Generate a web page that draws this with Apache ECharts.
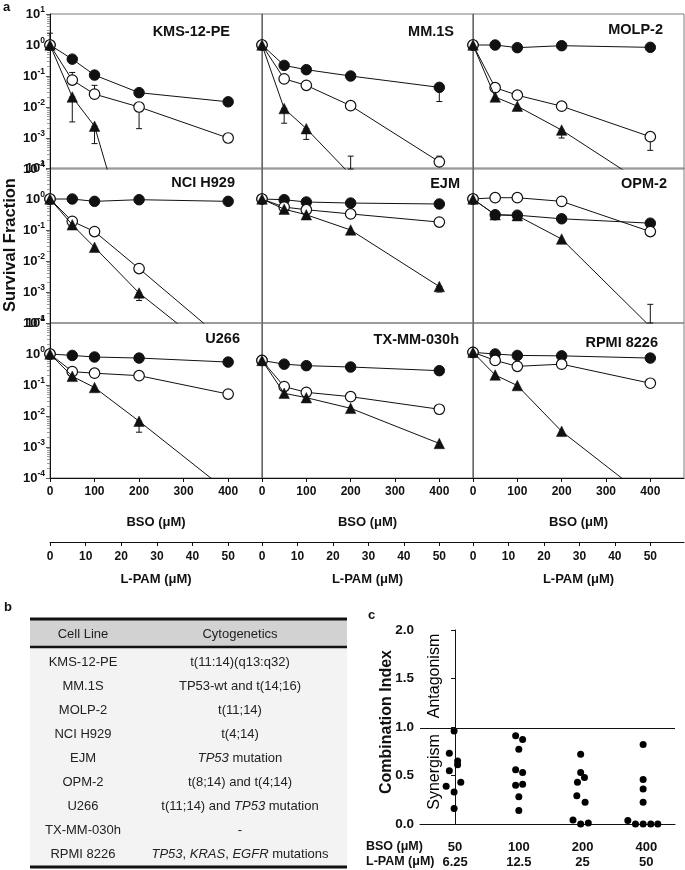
<!DOCTYPE html>
<html><head><meta charset="utf-8">
<script src="https://cdn.jsdelivr.net/npm/echarts@6/dist/echarts.min.js"></script>
<style>html,body{margin:0;padding:0;background:#fff}#c{width:685px;height:870px}</style>
</head><body><div id="c"></div>
<script>
// ---------------- data ----------------
const cellLines = ['KMS-12-PE','MM.1S','MOLP-2','NCI H929','EJM','OPM-2','U266','TX-MM-030h','RPMI 8226'];
const bsoDoses = [0, 50, 100, 200, 400];
const lpamDoses = [0, 6.25, 12.5, 25, 50];
// filled circles
const bsoAlone = [
  [1, 0.35, 0.107, 0.029, 0.0147],
  [1, 0.22, 0.16, 0.10, 0.043],
  [1, 1.0, 0.82, 0.95, 0.84],
  [1, 1.0, 0.84, 0.95, 0.84],
  [1, 0.95, 0.80, 0.74, 0.69],
  [1, 0.31, 0.30, 0.23, 0.166],
  [1, 0.90, 0.80, 0.74, 0.55],
  [0.62, 0.47, 0.42, 0.38, 0.29],
  [1.13, 1.0, 0.90, 0.87, 0.74]
];
// open circles
const lpamAlone = [
  [1, 0.074, 0.026, 0.010, 0.001],
  [1, 0.081, 0.05, 0.011, 0.00017],
  [1, 0.042, 0.024, 0.0106, 0.0011],
  [1, 0.19, 0.089, 0.0057, 0.000021],
  [1, 0.55, 0.45, 0.33, 0.18],
  [1, 1.1, 1.1, 0.84, 0.089],
  [1, 0.27, 0.24, 0.20, 0.051],
  [0.62, 0.089, 0.058, 0.042, 0.0165],
  [1.13, 0.62, 0.40, 0.47, 0.114]
];
// triangles
const combination = [
  [1, 0.021, 0.0024, 3e-8, null],
  [1, 0.0089, 0.002, 0.000065, null],
  [1, 0.021, 0.0106, 0.0018, 0.000025],
  [1, 0.147, 0.0277, 0.00093, 0.0000048],
  [1, 0.47, 0.31, 0.10, 0.0015],
  [1, 0.31, 0.29, 0.051, 0.000076],
  [1, 0.19, 0.083, 0.0068, 0.000036],
  [0.62, 0.054, 0.039, 0.0177, 0.0013],
  [1.13, 0.21, 0.096, 0.0032, 0.000019]
];
// error bars: panel, BSO dose, low, high
const errorBars = [
  [0, 0, 1, 2.4], [0, 50, 0.074, 0.13], [0, 50, 0.0033, 0.021], [0, 100, 0.026, 0.05],
  [0, 100, 0.00066, 0.0024], [0, 200, 0.002, 0.010],
  [1, 400, 0.015, 0.043], [1, 400, 0.00017, 0.00026], [1, 50, 0.003, 0.0089],
  [1, 100, 0.0009, 0.002], [1, 200, 0.0001, 0.00026], [1, 100, 0.16, 0.19],
  [2, 400, 0.0004, 0.0011], [2, 200, 0.001, 0.0018],
  [3, 200, 0.00053, 0.00093],
  [4, 400, 0.001, 0.0015],
  [5, 400, 0.0001, 0.0004], [5, 50, 0.25, 0.31], [5, 100, 0.24, 0.30], [5, 200, 0.18, 0.23],
  [6, 200, 0.003, 0.0068]
];
const bsoTicks = [0, 100, 200, 300, 400];
const lpamTicks = [0, 10, 20, 30, 40, 50];

const ciBso = ['50', '100', '200', '400'];
const ciLpam = ['6.25', '12.5', '25', '50'];
const ciPoints = [
  [-0.015, 0.96], [-0.09, 0.73], [0.04, 0.65], [0.04, 0.61], [-0.09, 0.55], [0.09, 0.43], [-0.14, 0.39], [-0.015, 0.33], [-0.015, 0.16],
  [0.95, 0.91], [1.06, 0.87], [1.0, 0.77], [0.95, 0.56], [1.06, 0.53], [0.95, 0.40], [1.06, 0.41], [1.0, 0.28], [1.0, 0.14],
  [1.97, 0.72], [1.97, 0.53], [2.03, 0.48], [1.92, 0.43], [1.91, 0.29], [2.04, 0.225], [1.85, 0.04], [1.97, 0.0], [2.09, 0.01],
  [2.95, 0.82], [2.95, 0.46], [2.95, 0.36], [2.95, 0.225], [2.71, 0.035], [2.83, 0.0], [2.95, 0.0], [3.07, 0.0], [3.18, 0.0]
];

const tableHeader = ['Cell Line', 'Cytogenetics'];
const cytogenetics = [
  't(11:14)(q13:q32)', 'TP53-wt and t(14;16)', 't(11;14)', 't(4;14)', '{i|TP53} mutation',
  't(8;14) and t(4;14)', 't(11;14) and {i|TP53} mutation', '-', '{i|TP53}, {i|KRAS}, {i|EGFR} mutations'
];

// ---------------- layout ----------------
const FF = 'Liberation Sans, Arial, Helvetica, sans-serif';
const colLeft = [50, 262, 473], colW = [212, 211, 211];
const rowTop = [14, 168, 323], rowH = 155;
const XMAX = 476;
const titlePos = [[230,32],[454,32],[663,30],[235,183],[460,184],[667,184],[240,339],[459,340],[658,343]];

const grids = [], xAxes = [], yAxes = [], series = [], graphics = [];
for (let p = 0; p < 9; p++) {
  const r = Math.floor(p / 3), c = p % 3;
  grids.push({left: colLeft[c], top: rowTop[r], width: colW[c], height: rowH, show: true, borderColor: '#7a7a7a', borderWidth: 1, containLabel: false});
  const bottomRow = r === 2;
  xAxes.push({
    type: 'value', gridIndex: p, min: 0, max: XMAX, show: bottomRow,
    splitLine: {show: false},
    axisLine: {show: true, lineStyle: {color: '#111', width: 1}},
    axisTick: {show: true, customValues: bsoTicks, length: 4, lineStyle: {color: '#111'}},
    axisLabel: {customValues: bsoTicks, fontFamily: FF, fontWeight: 'bold', fontSize: 12, color: '#111', margin: 8},
    name: 'BSO (\u03bcM)', nameLocation: 'middle', nameGap: 38,
    nameTextStyle: {fontFamily: FF, fontWeight: 'bold', fontSize: 13, color: '#111'}
  });
  yAxes.push({
    type: 'log', logBase: 10, gridIndex: p, min: 0.0001, max: 10,
    splitLine: {show: false},
    axisLine: {show: true, lineStyle: {color: c === 0 ? '#111' : '#666', width: 1}},
    axisTick: {show: c === 0, length: 4, lineStyle: {color: '#555'}},
    minorTick: {show: c === 0, splitNumber: 9, length: 3, lineStyle: {color: '#999'}},
    axisLabel: {
      show: c === 0, margin: 5, color: '#111',
      formatter: v => '{b|10}{s|' + Math.round(Math.log10(v)) + '}',
      rich: {
        b: {fontFamily: FF, fontWeight: 'bold', fontSize: 13, color: '#111'},
        s: {fontFamily: FF, fontWeight: 'bold', fontSize: 8.5, color: '#111', padding: [0, 0, 8, 0]}
      }
    }
  });
  const mk = (vals) => bsoDoses.map((x, i) => [x, vals[i]]).filter(d => d[1] !== null);
  const base = {type: 'line', xAxisIndex: p, yAxisIndex: p, clip: true, symbolSize: 10.5, lineStyle: {color: '#111', width: 1}, emphasis: {disabled: true}};
  series.push(Object.assign({}, base, {data: mk(bsoAlone[p]), symbol: 'circle', itemStyle: {color: '#111', borderColor: '#111', borderWidth: 1}, z: 3}));
  series.push(Object.assign({}, base, {data: mk(lpamAlone[p]), symbol: 'circle', itemStyle: {color: '#fff', borderColor: '#111', borderWidth: 1.2}, z: 4}));
  series.push(Object.assign({}, base, {data: mk(combination[p]), symbol: 'triangle', symbolSize: 10.5, itemStyle: {color: '#111', borderColor: '#111', borderWidth: 0.5}, z: 5}));
  series.push({
    type: 'custom', xAxisIndex: p, yAxisIndex: p, z: 2,
    data: errorBars.filter(e => e[0] === p).map(e => [e[1], e[2], e[3]]),
    encode: {x: 0, y: [1, 2]},
    renderItem: (params, api) => {
      const x = api.value(0);
      const lo = api.coord([x, api.value(1)]), hi = api.coord([x, api.value(2)]);
      const w = 3, st = {stroke: '#111', lineWidth: 1};
      return {type: 'group', children: [
        {type: 'line', shape: {x1: lo[0], y1: lo[1], x2: hi[0], y2: hi[1]}, style: st},
        {type: 'line', shape: {x1: lo[0] - w, y1: lo[1], x2: lo[0] + w, y2: lo[1]}, style: st},
        {type: 'line', shape: {x1: hi[0] - w, y1: hi[1], x2: hi[0] + w, y2: hi[1]}, style: st}
      ]};
    }
  });
  graphics.push({type: 'text', x: titlePos[p][0], y: titlePos[p][1], z: 10,
    style: {text: cellLines[p], align: 'right', verticalAlign: 'middle', fontFamily: FF, fontWeight: 'bold', fontSize: 14.5, fill: '#111'}});
}
// L-PAM secondary axes on bottom row
for (let c = 0; c < 3; c++) {
  const p = 6 + c;
  xAxes.push({
    type: 'value', gridIndex: p, min: 0, max: XMAX / 8, position: 'bottom', offset: 64,
    splitLine: {show: false},
    axisLine: {show: true, lineStyle: {color: '#111', width: 1}},
    axisTick: {show: true, customValues: lpamTicks, length: 4, lineStyle: {color: '#111'}},
    axisLabel: {customValues: lpamTicks, fontFamily: FF, fontWeight: 'bold', fontSize: 12, color: '#111', margin: 9},
    name: 'L-PAM (\u03bcM)', nameLocation: 'middle', nameGap: 31,
    nameTextStyle: {fontFamily: FF, fontWeight: 'bold', fontSize: 13, color: '#111'}
  });
}

// ---- panel c ----
const gc = grids.length;
grids.push({left: 420, top: 630, width: 255, height: 194, show: false});
xAxes.push({
  type: 'value', gridIndex: gc, min: -0.55, max: 3.45,
  splitLine: {show: false},
  axisLine: {show: true, lineStyle: {color: '#111'}},
  axisTick: {show: false},
  axisLabel: {customValues: [0, 1, 2, 3], margin: 16, formatter: v => '{a|' + ciBso[v] + '}\n{a|' + ciLpam[v] + '}',
    rich: {a: {fontFamily: FF, fontWeight: 'bold', fontSize: 13, color: '#111', lineHeight: 15}}}
});
yAxes.push({
  type: 'value', gridIndex: gc, min: 0, max: 2, interval: 0.5,
  splitLine: {show: false},
  axisLine: {show: true, lineStyle: {color: '#111'}},
  axisTick: {show: true, length: 4, lineStyle: {color: '#111'}},
  axisLabel: {formatter: v => v.toFixed(1), fontFamily: FF, fontWeight: 'bold', fontSize: 13.5, color: '#111', margin: 6}
});
series.push({
  type: 'scatter', xAxisIndex: xAxes.length - 1, yAxisIndex: yAxes.length - 1,
  data: ciPoints, symbol: 'circle', symbolSize: 7, itemStyle: {color: '#000', opacity: 1}, clip: false,
  markLine: {silent: true, symbol: 'none', label: {show: false}, lineStyle: {color: '#111', width: 1, type: 'solid'}, data: [{yAxis: 0.99}]}
});

// ---- texts ----
const txt = (t, x, y, o) => Object.assign({type: 'text', x, y, z: 10, style: Object.assign({text: t, fontFamily: FF, fill: '#111', fontSize: 13, align: 'left', verticalAlign: 'middle'}, o || {})});
graphics.push(txt('a', 3, 7, {fontWeight: 'bold', fontSize: 13}));
graphics.push(Object.assign(txt('Survival Fraction', 10, 245, {fontWeight: 'bold', fontSize: 16.5, align: 'center'}), {rotation: Math.PI / 2}));
graphics.push(txt('b', 4, 607, {fontWeight: 'bold', fontSize: 13}));
graphics.push(txt('c', 368, 615, {fontWeight: 'bold', fontSize: 13}));
graphics.push(Object.assign(txt('Combination Index', 387, 722, {fontWeight: 'bold', fontSize: 16, align: 'center'}), {rotation: Math.PI / 2}));
graphics.push(Object.assign(txt('Antagonism', 435, 676, {fontSize: 16, align: 'center', fill: '#000'}), {rotation: Math.PI / 2}));
graphics.push(Object.assign(txt('Synergism', 435, 772, {fontSize: 16, align: 'center', fill: '#000'}), {rotation: Math.PI / 2}));
graphics.push(txt('BSO (\u03bcM)', 366, 847, {fontWeight: 'bold', fontSize: 12.5}));
graphics.push(txt('L-PAM (\u03bcM)', 366, 862, {fontWeight: 'bold', fontSize: 12.5}));

// ---- table b ----
const TL = 30, TR = 347, TT = 619, HB = 647, TB = 867;
graphics.push({type: 'rect', shape: {x: TL, y: HB, width: TR - TL, height: TB - HB}, style: {fill: '#f3f3f3'}, z: 1});
graphics.push({type: 'rect', shape: {x: TL, y: TT, width: TR - TL, height: HB - TT}, style: {fill: '#d2d2d2'}, z: 1});
[[TT, 3], [HB, 2.5], [TB, 3]].forEach(([y, w]) => graphics.push({type: 'line', shape: {x1: TL, y1: y, x2: TR, y2: y}, style: {stroke: '#111', lineWidth: w}, z: 2}));
const colX = [83, 240];
tableHeader.forEach((h, i) => graphics.push(txt(h, colX[i], 634, {align: 'center', fontSize: 13, fill: '#222'})));
cellLines.forEach((cl, i) => {
  const y = 662 + i * 24.1;
  graphics.push(txt(cl, colX[0], y, {align: 'center', fontSize: 13, fill: '#222'}));
  graphics.push(txt(cytogenetics[i], colX[1], y, {align: 'center', fontSize: 13, fill: '#222', rich: {i: {fontStyle: 'italic', fontFamily: FF, fontSize: 13, fill: '#222'}}}));
});

const chart = echarts.init(document.getElementById('c'), null, {renderer: 'canvas'});
chart.setOption({
  animation: false, backgroundColor: '#fff',
  grid: grids, xAxis: xAxes, yAxis: yAxes, series: series, graphic: graphics
});
</script></body></html>
